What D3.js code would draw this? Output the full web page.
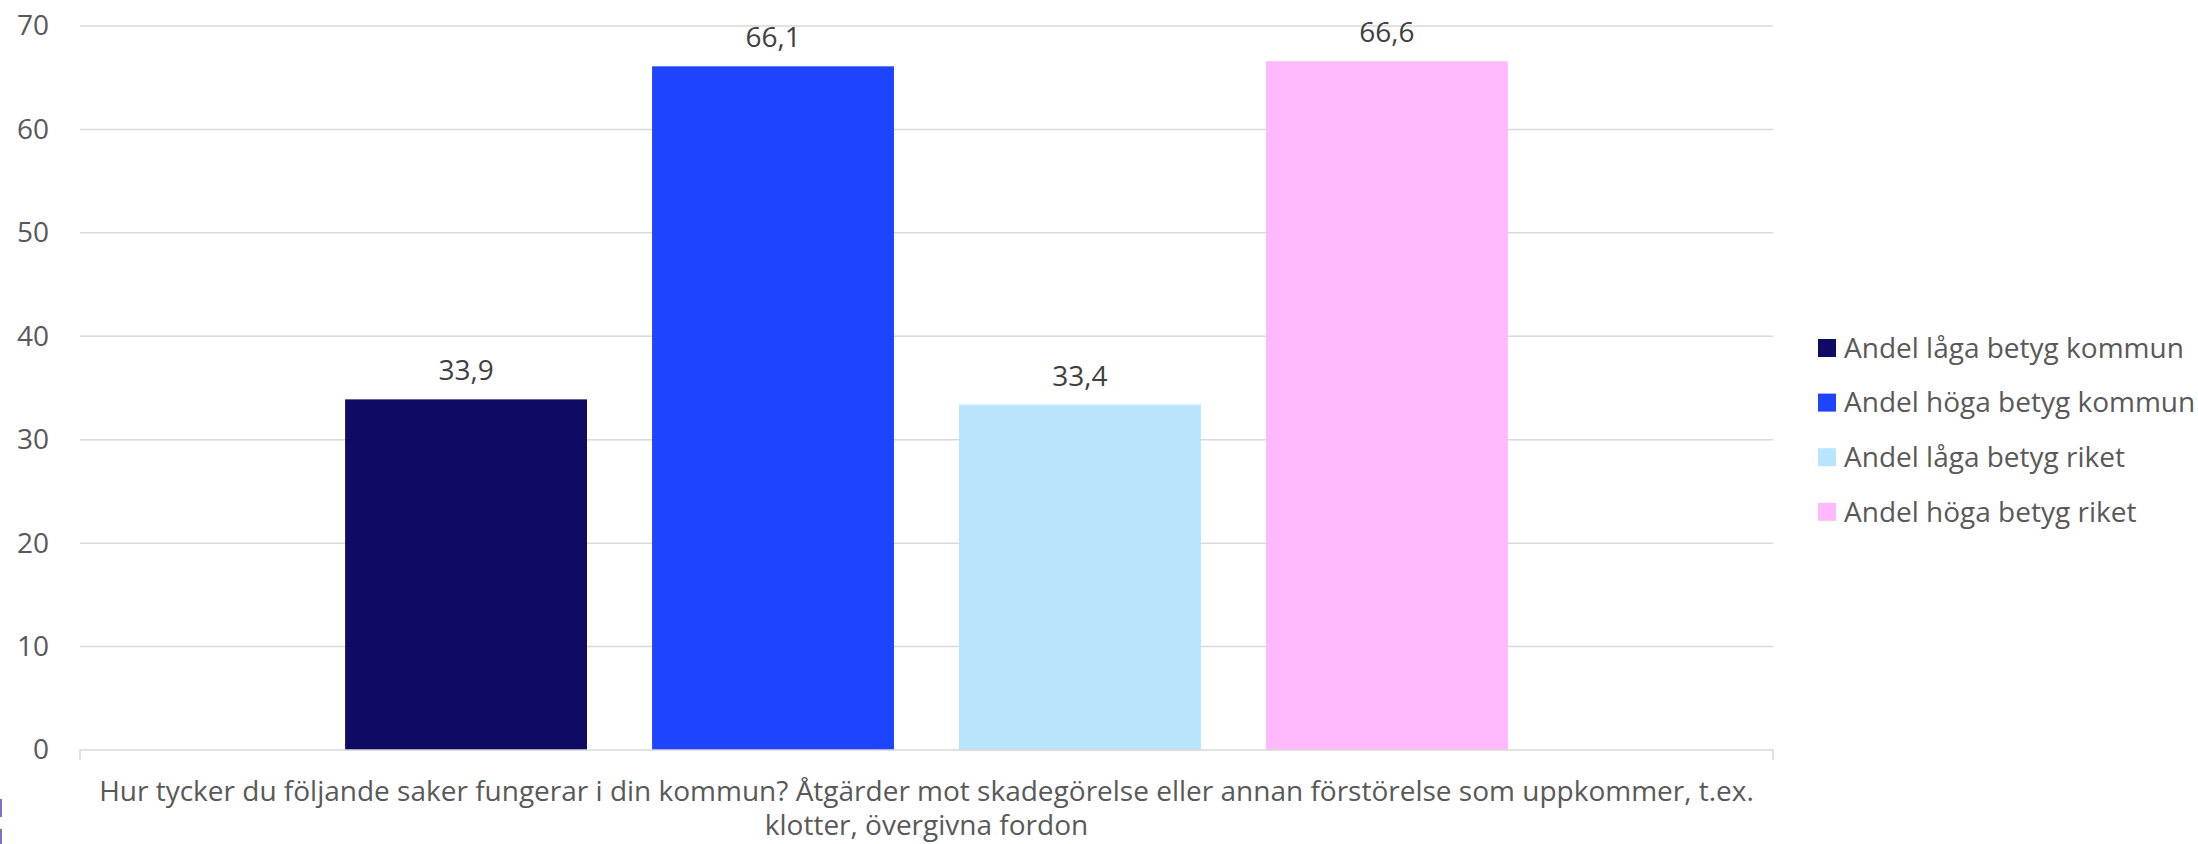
<!DOCTYPE html>
<html>
<head>
<meta charset="utf-8">
<script src="https://cdn.jsdelivr.net/npm/d3@7"></script>
<style>
  html, body { margin: 0; padding: 0; background: #ffffff; }
  svg { display: block; }
  text { font-family: "Open Sans", "Noto Sans", sans-serif; }
</style>
</head>
<body>
<svg id="chart" width="2198" height="844"></svg>
<script>
// Survey question (single category on the x axis)
const categories = ["Hur tycker du följande saker fungerar i din kommun? Åtgärder mot skadegörelse eller annan förstörelse som uppkommer, t.ex. klotter, övergivna fordon"];
const categoryLines = [
  "Hur tycker du följande saker fungerar i din kommun? Åtgärder mot skadegörelse eller annan förstörelse som uppkommer, t.ex.",
  "klotter, övergivna fordon"
];
const seriesNames = ["Andel låga betyg kommun", "Andel höga betyg kommun", "Andel låga betyg riket", "Andel höga betyg riket"];
const seriesValues = [33.9, 66.1, 33.4, 66.6];
const seriesColors = ["#0f0a63", "#1f44ff", "#b9e5fc", "#ffb9fc"];
const yTicks = [0, 10, 20, 30, 40, 50, 60, 70];

const svg = d3.select("#chart");
const plot = { left: 80, right: 1773, top: 26, bottom: 750 };

const y = d3.scaleLinear().domain([0, 70]).range([plot.bottom, plot.top]);
const x0 = d3.scaleBand().domain(categories).range([plot.left, plot.right])
  .paddingInner(0).paddingOuter(0.228);
const x1 = d3.scaleBand().domain(seriesNames).range([0, x0.bandwidth()]).paddingInner(0.212);

// Horizontal gridlines
svg.append("g").selectAll("line").data(yTicks.filter(d => d > 0)).join("line")
  .attr("x1", plot.left).attr("x2", plot.right)
  .attr("y1", d => y(d)).attr("y2", d => y(d))
  .attr("stroke", "#d9d9d9").attr("stroke-width", 1.5);

// Y axis labels
const yAxis = d3.axisLeft(y).tickValues(yTicks).tickSize(0).tickPadding(31);
svg.append("g").attr("transform", `translate(${plot.left},0)`).call(yAxis)
  .call(g => g.select(".domain").remove())
  .call(g => g.selectAll("text").attr("fill", "#595959").style("font-size", "28px")
    .style("font-family", '"Open Sans", sans-serif'));

// Bars
const cat = categories[0];
svg.append("g").selectAll("rect").data(seriesValues).join("rect")
  .attr("x", (d, i) => x0(cat) + x1(seriesNames[i]))
  .attr("y", d => y(d))
  .attr("width", x1.bandwidth())
  .attr("height", d => y(0) - y(d))
  .attr("fill", (d, i) => seriesColors[i]);

// Value labels
svg.append("g").selectAll("text").data(seriesValues).join("text")
  .attr("x", (d, i) => x0(cat) + x1(seriesNames[i]) + x1.bandwidth() / 2)
  .attr("y", d => y(d) - 19)
  .attr("text-anchor", "middle")
  .attr("fill", "#404040")
  .style("font-size", "28px")
  .text(d => d3.format(".1f")(d).replace(".", ","));

// X axis baseline with end ticks
const xAxisG = svg.append("g").attr("fill", "none").attr("stroke", "#d9d9d9").attr("stroke-width", 1.5);
xAxisG.append("path")
  .attr("d", `M${plot.left},${plot.bottom + 10}V${plot.bottom}H${plot.right}V${plot.bottom + 10}`);

// Category label (two lines)
svg.append("g").selectAll("text").data(categoryLines).join("text")
  .attr("x", (plot.left + plot.right) / 2)
  .attr("y", (d, i) => 801 + i * 34)
  .attr("text-anchor", "middle")
  .attr("fill", "#595959")
  .style("font-size", "28px")
  .text(d => d);

// Legend
const legend = svg.append("g").attr("transform", "translate(1818,339)");
const items = legend.selectAll("g").data(seriesNames).join("g")
  .attr("transform", (d, i) => `translate(0,${i * 54.6})`);
items.append("rect").attr("width", 18).attr("height", 18)
  .attr("fill", (d, i) => seriesColors[i]);
items.append("text").attr("x", 26).attr("y", 9).attr("dy", "0.35em")
  .attr("fill", "#595959").style("font-size", "28px").text(d => d);

// Left edge marks
svg.append("g").selectAll("rect").data([[799, 18], [829, 15]]).join("rect")
  .attr("x", 0).attr("y", d => d[0]).attr("width", 2).attr("height", d => d[1])
  .attr("fill", "#7b72c4");
</script>
</body>
</html>
